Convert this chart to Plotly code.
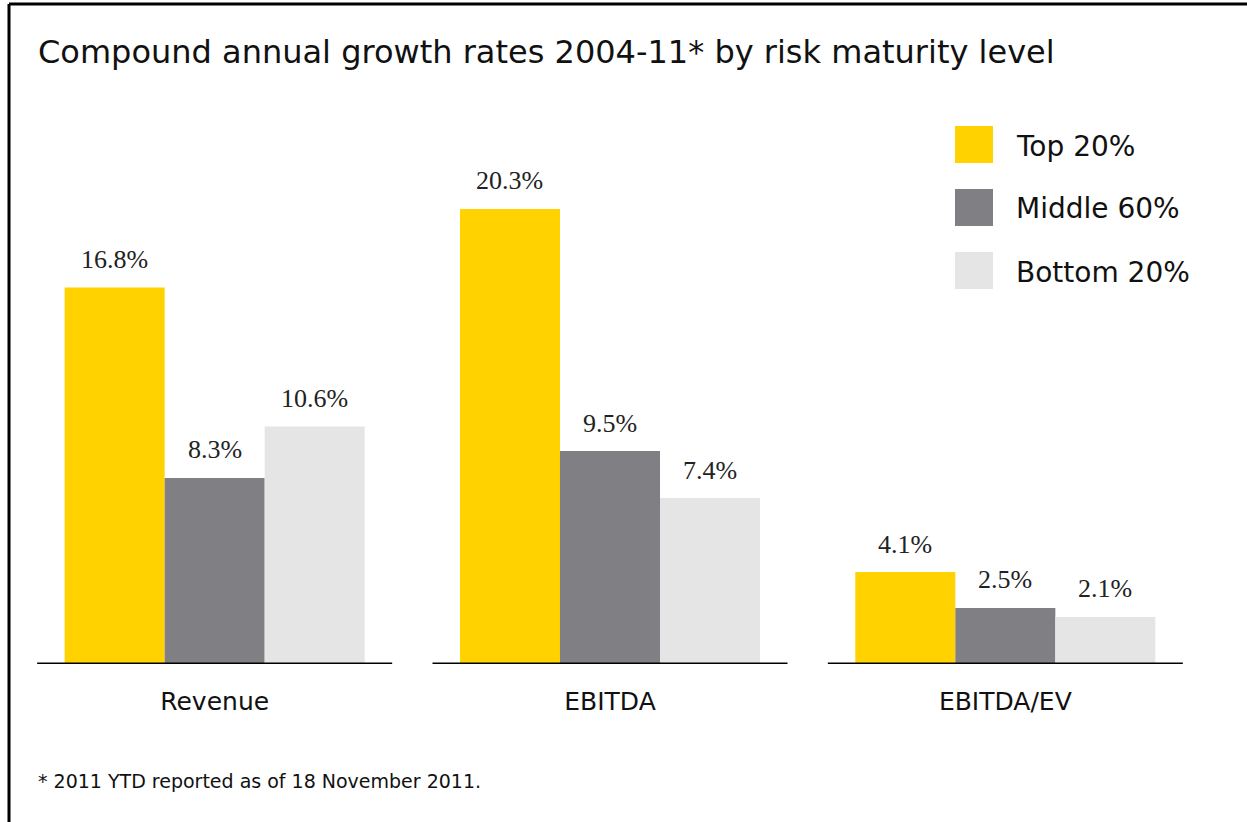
import plotly.graph_objects as go

categories = ["Revenue", "EBITDA", "EBITDA/EV"]
series_names = ["Top 20%", "Middle 60%", "Bottom 20%"]
top20 = [16.8, 20.3, 4.1]
middle60 = [8.3, 9.5, 2.5]
bottom20 = [10.6, 7.4, 2.1]
series_values = [top20, middle60, bottom20]
colors = ["#FFD200", "#807F83", "#E5E5E5"]

title_text = "Compound annual growth rates 2004-11* by risk maturity level"
footnote_text = "* 2011 YTD reported as of 18 November 2011."

W, H = 1247, 822
SANS = "'DejaVu Sans', Verdana, sans-serif"
SERIF = "'Liberation Serif', serif"
BARGAP = 0.241

fig = go.Figure()
for name, vals, col in zip(series_names, series_values, colors):
    fig.add_trace(go.Bar(x=categories, y=vals, name=name, marker=dict(color=col, line=dict(width=0)),
                         showlegend=False, hoverinfo="skip"))

shapes = []
annotations = []
# baselines under each group
for i, _ in enumerate(categories):
    shapes.append(dict(type="line", xref="x", yref="y", x0=i - 0.449, x1=i + 0.449, y0=0, y1=0,
                       line=dict(color="#000000", width=3)))
# value labels
w = (1 - BARGAP) / len(series_names)
for j, vals in enumerate(series_values):
    for i, v in enumerate(vals):
        annotations.append(dict(x=i + (j - 1) * w, y=v, xref="x", yref="y", text=f"{v:.1f}%",
                                showarrow=False, yanchor="middle", xanchor="center", yshift=28,
                                font=dict(family=SERIF, size=26, color="#222222")))
# legend (manual, large squares)
for k, (name, col) in enumerate(zip(series_names, colors)):
    y0 = 126 + k * 63
    shapes.append(dict(type="rect", xref="paper", yref="paper", x0=955 / W, x1=993 / W,
                       y0=1 - (y0 + 37) / H, y1=1 - y0 / H, fillcolor=col, line=dict(width=0)))
    annotations.append(dict(x=1014 / W, y=1 - (y0 + 20) / H, xref="paper", yref="paper", text=name,
                            showarrow=False, xanchor="left", yanchor="middle",
                            font=dict(family=SANS, size=28, color="#111111")))
# title and footnote
annotations.append(dict(x=36 / W, y=1 - 52 / H, xref="paper", yref="paper", text=title_text,
                        showarrow=False, xanchor="left", yanchor="middle",
                        font=dict(family=SANS, size=32, color="#111111")))
annotations.append(dict(x=36 / W, y=1 - 781 / H, xref="paper", yref="paper", text=footnote_text,
                        showarrow=False, xanchor="left", yanchor="middle",
                        font=dict(family=SANS, size=19, color="#111111")))
# frame
shapes.append(dict(type="line", xref="paper", yref="paper", x0=9 / W, x1=1.0, y0=1 - 4 / H, y1=1 - 4 / H,
                   line=dict(color="#000000", width=3)))
shapes.append(dict(type="line", xref="paper", yref="paper", x0=9 / W, x1=9 / W, y0=0, y1=1 - 4 / H,
                   line=dict(color="#000000", width=3)))

fig.update_layout(
    width=W, height=H,
    margin=dict(l=0, r=0, t=0, b=0),
    paper_bgcolor="white", plot_bgcolor="white",
    barmode="group", bargap=BARGAP, bargroupgap=0,
    shapes=shapes, annotations=annotations,
    xaxis=dict(domain=[17 / W, 1203 / W], range=[-0.5, 2.5], showgrid=False, showline=False,
               zeroline=False, ticks="", ticklabelstandoff=20,
               tickfont=dict(family=SANS, size=25, color="#111111")),
    yaxis=dict(domain=[158 / H, 696 / H], range=[0, 24], visible=False, showgrid=False, zeroline=False),
)

fig.write_html("out.html")
